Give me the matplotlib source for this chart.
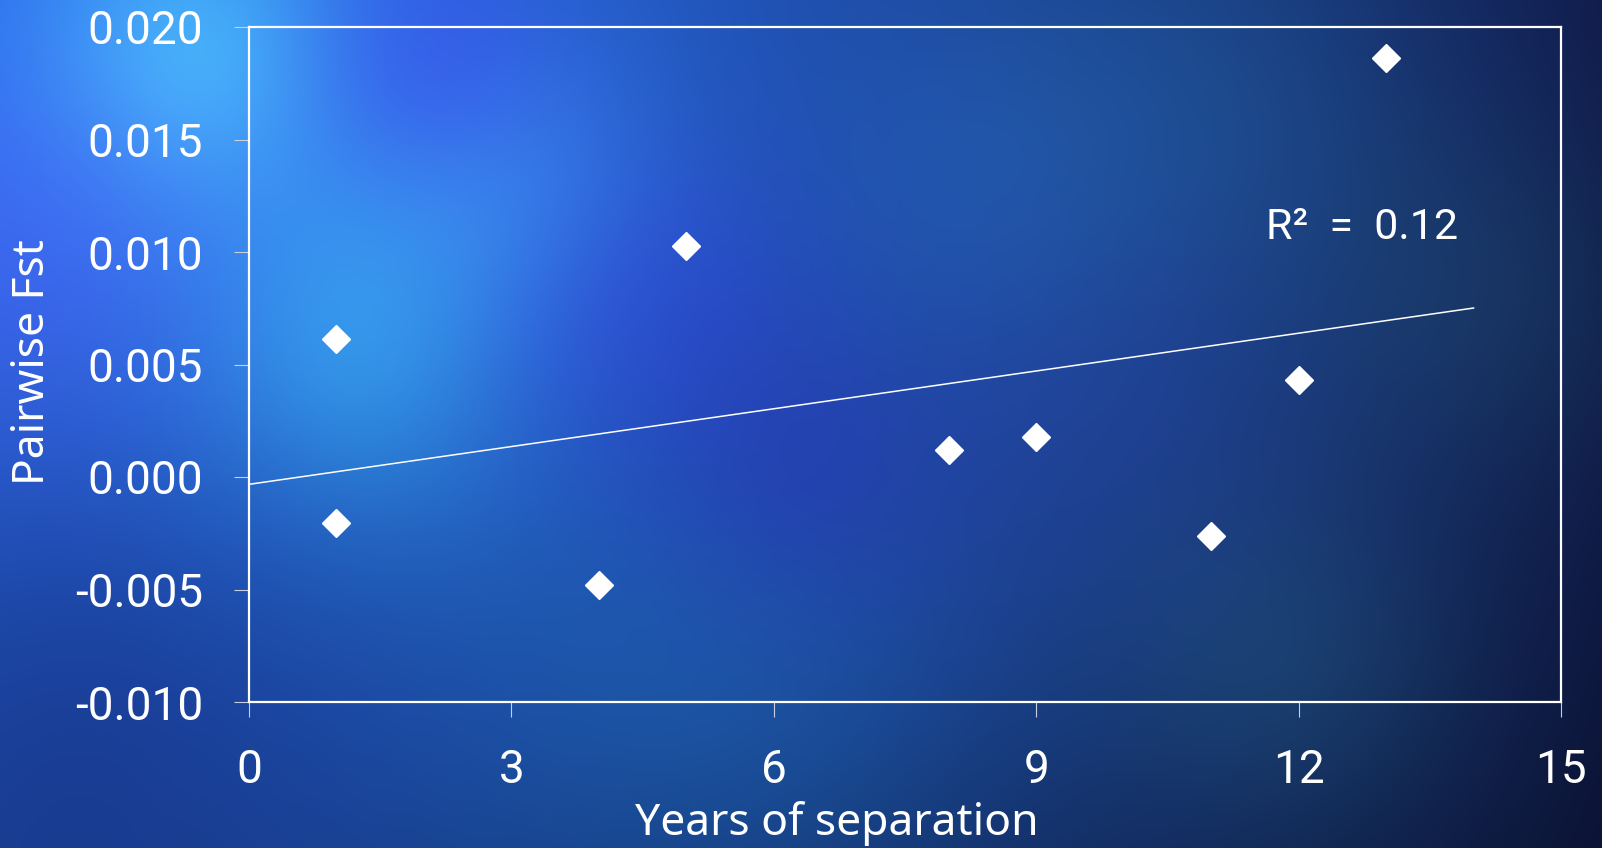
import numpy as np
import matplotlib
matplotlib.use("Agg")
import matplotlib.pyplot as plt

## data

years = [1, 1, 4, 5, 8, 9, 11, 12, 13]
fst = [0.00614, -0.00205, -0.00481, 0.01028, 0.0012, 0.00179, -0.00262, 0.00433, 0.01863]
x_ticks = [0, 3, 6, 9, 12, 15]
y_ticks = [-0.010, -0.005, 0.000, 0.005, 0.010, 0.015, 0.020]
r2_label = "R²  =  0.12"

## figure and blurred blue background

W, H = 1602, 848
fig = plt.figure(figsize=(W / 100, H / 100), dpi=100)

gx, gy = np.meshgrid(np.linspace(0, 1, 400), np.linspace(0, 1, 212))
base_l = np.array([40, 110, 235]) / 255
base_r = np.array([16, 26, 72]) / 255
t = np.clip(gx * 1.1 - 0.12, 0, 1) ** 1.2
bg = base_l[None, None, :] * (1 - t[..., None]) + base_r[None, None, :] * t[..., None]
# darken toward the bottom
bg *= (1 - 0.3 * gy[..., None] ** 2)

blobs = [  # (x, y, radius, rgb, strength)
    (0.12, 0.08, 0.07, (80, 215, 255), 0.75),
    (0.22, 0.40, 0.08, (60, 200, 255), 0.6),
    (0.30, 0.23, 0.07, (70, 190, 255), 0.5),
    (0.27, 0.08, 0.06, (60, 70, 240), 0.5),
    (0.40, 0.38, 0.08, (55, 60, 235), 0.45),
    (0.02, 0.30, 0.10, (80, 100, 255), 0.5),
    (0.45, 0.72, 0.12, (30, 120, 190), 0.4),
    (0.50, 0.55, 0.08, (40, 45, 180), 0.45),
    (0.62, 0.22, 0.08, (40, 110, 200), 0.4),
    (0.75, 0.15, 0.10, (35, 100, 160), 0.4),
    (0.70, 0.50, 0.10, (40, 70, 170), 0.35),
    (0.80, 0.78, 0.08, (40, 110, 140), 0.3),
    (0.92, 0.35, 0.08, (35, 90, 120), 0.3),
    (0.05, 0.88, 0.14, (20, 40, 120), 0.5),
]
for bx, by, br, rgb, s in blobs:
    w = s * np.exp(-((gx - bx) ** 2 + ((gy - by) * 0.53) ** 2) / (2 * br ** 2))
    bg = bg * (1 - w[..., None]) + (np.array(rgb) / 255)[None, None, :] * w[..., None]

bg_ax = fig.add_axes([0, 0, 1, 1], zorder=-1)
bg_ax.imshow(np.clip(bg, 0, 1), aspect="auto", extent=[0, 1, 0, 1], origin="upper", interpolation="bicubic")
bg_ax.axis("off")

## main axes

ax = fig.add_axes([249 / W, 1 - 702 / H, (1561 - 249) / W, (702 - 27) / H])
ax.patch.set_alpha(0)

ax.plot(years, fst, linestyle="none", marker="D", ms=14, color="white", mec="white")

slope, intercept = np.polyfit(years, fst, 1)
xl = np.array([0, 14])
ax.plot(xl, slope * xl + intercept, color="white", lw=1.1)

ax.text(12.72, 0.01056, r2_label, color="white", fontsize=31, family="Roboto",
        ha="center", va="baseline")

ax.set_xlim(0, 15)
ax.set_ylim(-0.010, 0.020)
ax.set_xticks(x_ticks)
ax.set_xticklabels([str(v) for v in x_ticks])
ax.set_yticks(y_ticks)
ax.set_yticklabels([f"{v:.3f}" for v in y_ticks])

for sp in ax.spines.values():
    sp.set_color("white")
    sp.set_linewidth(1.6)

ax.tick_params(axis="both", direction="out", length=11, width=0.8, color="#c8d0e0",
               labelcolor="white", labelsize=33)
ax.tick_params(axis="y", pad=22)
ax.tick_params(axis="x", pad=22)
for lab in ax.get_xticklabels() + ax.get_yticklabels():
    lab.set_family("Roboto")

fig.text(837 / W, 1 - 835 / H, "Years of separation", color="white", fontsize=32,
         family="Noto Sans", ha="center", va="baseline")
fig.text(33 / W, 1 - 362 / H, "Pairwise Fst", color="white", fontsize=32,
         family="Noto Sans", ha="center", va="center", rotation=90)

fig.savefig("out.png", dpi=100)
